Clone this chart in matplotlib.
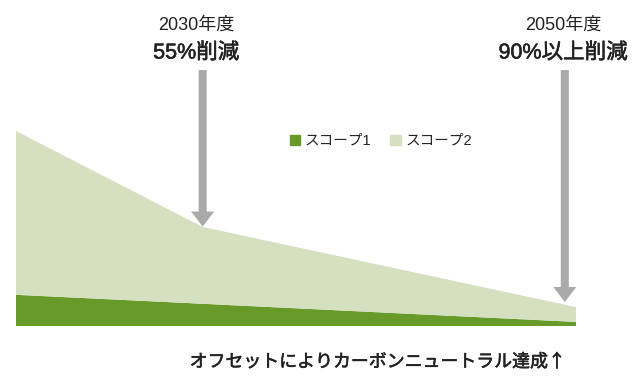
import matplotlib.pyplot as plt
import matplotlib.patheffects as pe
from matplotlib.patches import Patch

plt.rcParams['font.family'] = ['Liberation Sans', 'Noto Sans CJK JP', 'DejaVu Sans']

# data (index: start level = 100)
years = [2020, 2030, 2050]
scope1 = [16.0, 11.4, 2.1]
scope2 = [84.0, 39.4, 7.6]
series_labels = ['スコープ1', 'スコープ2']
milestones = [('2030年度', '55%削減'), ('2050年度', '90%以上削減')]
footer = 'オフセットによりカーボンニュートラル達成↑'

c1 = '#679a28'
c2 = '#d4e0bf'
grey = '#aaaaaa'
ink = '#222222'
# medium weight look: regular glyphs with a thin outline
medium = [pe.withStroke(linewidth=0.4, foreground=ink)]

W, H = 637, 376
fig = plt.figure(figsize=(W / 100, H / 100), dpi=100)
# axes: x from px 16 to 576, y from baseline px 326 up to the top of the figure
ax = fig.add_axes([16 / W, (H - 326) / H, 560 / W, 326 / H])
ax.stackplot(years, scope1, scope2, colors=[c1, c2], linewidth=0)
ax.set_xlim(years[0], years[-1])
ax.set_ylim(0, 326 / 1.95)
ax.axis('off')

# arrows pointing at the milestones
total = [a + b for a, b in zip(scope1, scope2)]
top_y = (326 - 70) / 1.95
arrow_x = [2030, 2049.4]
tips = [total[1] + 0.2, (326 - 302) / 1.95]
for x, tip in zip(arrow_x, tips):
    ax.annotate('', xy=(x, tip), xytext=(x, top_y),
                arrowprops=dict(arrowstyle='simple,head_length=1.08,head_width=1.66,tail_width=0.58',
                                mutation_scale=10, color=grey, shrinkA=0, shrinkB=0, lw=0))

# milestone captions
for px, (yr, cut) in zip([196, 563], milestones):
    fig.text(px / W, 1 - 25 / H, yr, ha='center', va='center', fontsize=13, color=ink)
    fig.text(px / W, 1 - 53 / H, cut, ha='center', va='center', fontsize=15.5,
             color=ink, path_effects=medium)

# legend
handles = [Patch(color=c1), Patch(color=c2)]
fig.legend(handles, series_labels, loc='center', bbox_to_anchor=(381 / W, 1 - 141 / H),
           ncol=2, frameon=False, fontsize=10.5, handlelength=0.7, handleheight=0.7,
           handletextpad=0.35, columnspacing=1.3, labelcolor=ink)

fig.text(565 / W, 1 - 362 / H, footer, ha='right', va='center', fontsize=12.9,
         family=['Noto Sans CJK JP', 'DejaVu Sans'], color=ink, path_effects=medium)

fig.savefig('out.png', dpi=100)
